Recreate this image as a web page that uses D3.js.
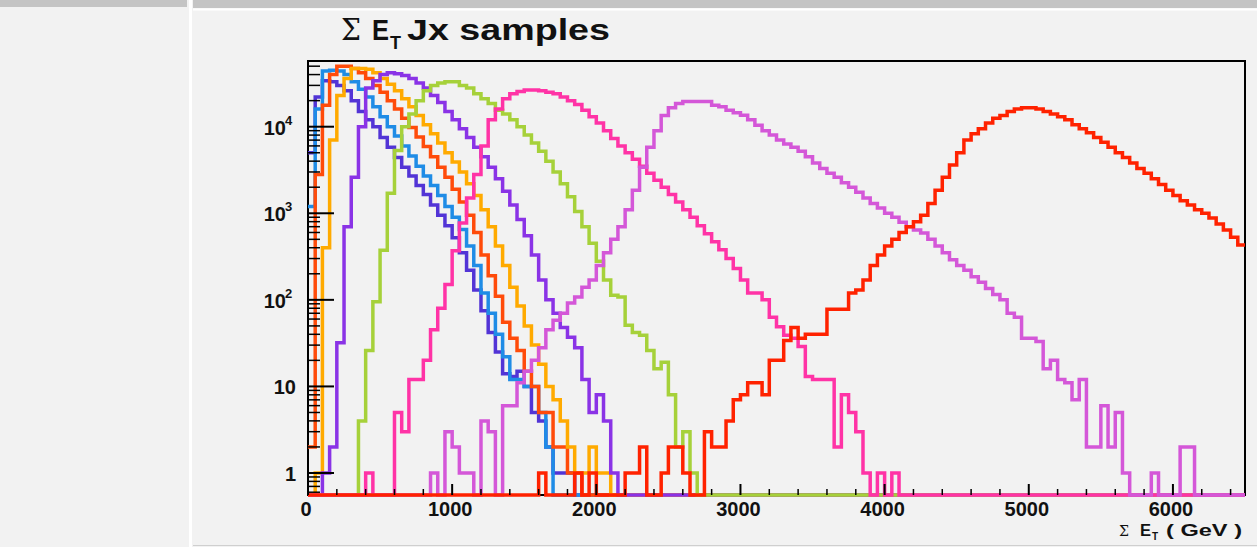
<!DOCTYPE html>
<html lang="en">
<head>
<meta charset="UTF-8">
<title>Sum ET Jx samples</title>
<script src="https://cdn.jsdelivr.net/npm/d3@7"></script>
<style>
  html, body { margin: 0; padding: 0; background: #f2f2f2; overflow: hidden; }
  svg { display: block; }
  text { font-family: "Liberation Sans", Arial, sans-serif; }
</style>
</head>
<body>
<script>
// histograms: 50 GeV bins on 0..6500 GeV, counts
const binWidth = 50;
const xMax = 6500;

// first filled bin of each sample, then its counts
const startBins = [0, 0, 0, 0, 2, 7, 8, 17, 32];

const countsJ0 = [5000, 22000, 34000, 33000, 30000, 26000, 20000, 15000, 12000, 10000, 7500, 5800, 4400, 3400, 2700, 2100, 1650, 1250, 950, 720, 520, 350, 220, 130, 75, 42, 25, 14, 13, 15, 10, 5, 4, 2, 1, 1, 1];
const countsJ1 = [1200, 16000, 44000, 45000, 44000, 40000, 33000, 27000, 22000, 17000, 13000, 10000, 7800, 6000, 4600, 3500, 2700, 2100, 1600, 1200, 900, 650, 420, 250, 120, 70, 40, 22, 12, 12, 10, 10, 5, 2];
const countsJ2 = [2, 2800, 17700, 40000, 50000, 50000, 47000, 42000, 36000, 30000, 25000, 20000, 16000, 12500, 9800, 7600, 5900, 4500, 3400, 2600, 1900, 1350, 950, 600, 330, 190, 110, 55, 36, 26, 15, 10, 5, 5, 2, 2, 1, 1];
const countsJ3 = [0, 1, 400, 7000, 23000, 36000, 47000, 47000, 46000, 42000, 36000, 31000, 26000, 21000, 17000, 13500, 10500, 8300, 6500, 5000, 3900, 3000, 2200, 1600, 1100, 700, 420, 250, 140, 85, 50, 30, 18, 10, 7, 4, 2, 1, 1, 2, 1, 1];
const countsJ4 = [1, 2, 32, 700, 2600, 10000, 28000, 34000, 40000, 42000, 41000, 39000, 36000, 32000, 28000, 23000, 19000, 15000, 12000, 9500, 7500, 5800, 4500, 3400, 2500, 1800, 1250, 850, 550, 330, 170, 100, 70, 48, 37, 28, 12, 5, 8, 4, 1];
const countsJ5 = [4, 26, 95, 375, 1700, 5300, 10000, 14000, 20000, 26000, 30000, 32000, 33000, 33000, 30000, 28000, 24000, 21000, 18500, 15500, 14000, 12000, 10000, 8000, 6500, 5200, 4000, 3000, 2200, 1550, 1050, 700, 450, 280, 170, 113, 108, 51, 42, 39, 26, 16, 19, 8, 2, 3, 1];
const countsJ6 = [1, 0, 0, 0, 5, 3, 12, 12, 20, 45, 80, 150, 370, 770, 1500, 2800, 6000, 12000, 16000, 21000, 24000, 25500, 26500, 26500, 26000, 25000, 24000, 22000, 20000, 18000, 15500, 13000, 11000, 9000, 7300, 6000, 5000, 4200, 3500, 2900, 2400, 2000, 1650, 1350, 1100, 900, 720, 580, 470, 380, 300, 230, 170, 120, 120, 100, 63, 49, 39, 36, 29, 13, 12, 12, 12, 2, 8, 5, 3, 1, 0, 1, 0, 1];
const countsJ7 = [1, 0, 3, 2, 1, 1, 0, 4, 3, 0, 6, 6, 11, 15, 20, 28, 45, 58, 70, 92, 108, 140, 170, 250, 350, 500, 700, 1100, 1850, 3400, 5800, 9000, 13500, 16500, 18500, 19500, 19500, 19500, 19500, 17700, 17000, 15500, 14500, 13600, 12000, 10400, 9000, 8000, 7000, 6300, 5800, 5200, 4500, 3800, 3300, 2900, 2600, 2250, 2000, 1750, 1500, 1300, 1150, 1000, 900, 790, 700, 640, 590, 500, 420, 350, 290, 250, 220, 185, 160, 135, 115, 100, 70, 63, 36, 36, 33, 16, 20, 12, 11, 7, 12, 2, 2, 6, 2, 5, 1, 0, 0, 0, 1, 0, 0, 0, 2, 2];
const countsJ8 = [1, 0, 0, 0, 0, 1, 0, 1, 0, 0, 0, 0, 1, 1, 2, 0, 0, 1, 2, 2, 1, 0, 0, 3, 2, 2, 4, 7, 8, 11, 11, 8, 20, 20, 34, 48, 36, 40, 40, 40, 78, 78, 78, 120, 130, 170, 250, 330, 420, 500, 600, 700, 800, 950, 1300, 1850, 2600, 3600, 5000, 7000, 8300, 9500, 11000, 12500, 13500, 15000, 16000, 16500, 16500, 16000, 15000, 14000, 13000, 12000, 10500, 9500, 8500, 7500, 6600, 5800, 5000, 4400, 3800, 3300, 2900, 2500, 2150, 1850, 1600, 1400, 1250, 1100, 1000, 880, 750, 640, 530, 430];

const sampleCounts = [countsJ0, countsJ1, countsJ2, countsJ3, countsJ4, countsJ5, countsJ6, countsJ7, countsJ8];
const sampleColors = ["#5234d6", "#1f8ce6", "#ff4b0a", "#ffaa00", "#8a33e6", "#a6d13a", "#ff33a6", "#d457d8", "#ff2200"];

const xTickValues = [0, 1000, 2000, 3000, 4000, 5000, 6000];
const yTickValues = [1, 10, 100, 1000, 10000];
const yTickLabels = [["1", ""], ["10", ""], ["10", "2"], ["10", "3"], ["10", "4"]];

const width = 1257, height = 547;
const frame = { left: 308, right: 1245, top: 61, bottom: 495 };
const nBins = xMax / binWidth;

const svg = d3.select("body").append("svg")
    .attr("width", width)
    .attr("height", height);

// window chrome around the canvas
svg.append("rect").attr("x", 0).attr("y", 0).attr("width", width).attr("height", height).attr("fill", "#f2f2f2");
svg.append("rect").attr("x", 0).attr("y", 0).attr("width", 187).attr("height", 7).attr("fill", "#c4c4c4");
svg.append("rect").attr("x", 193).attr("y", 0).attr("width", width - 193).attr("height", 8).attr("fill", "#c4c4c4");
svg.append("line").attr("x1", 193).attr("x2", width).attr("y1", 9.5).attr("y2", 9.5).attr("stroke", "#ffffff").attr("stroke-width", 2);
svg.append("line").attr("x1", 190.5).attr("x2", 190.5).attr("y1", 0).attr("y2", height).attr("stroke", "#ffffff").attr("stroke-width", 3);
svg.append("line").attr("x1", 193).attr("x2", width).attr("y1", 545.5).attr("y2", 545.5).attr("stroke", "#cfcfcf").attr("stroke-width", 1);

const x = d3.scaleLinear().domain([0, xMax]).range([frame.left, frame.right]);
const y = d3.scaleLog().domain([0.557, 57400]).range([frame.bottom, frame.top]);

// frame first, the empty bins are drawn over its bottom edge
svg.append("rect")
    .attr("x", frame.left).attr("y", frame.top)
    .attr("width", frame.right - frame.left).attr("height", frame.bottom - frame.top)
    .attr("fill", "none").attr("stroke", "#000").attr("stroke-width", 2);

// full 130-bin arrays, empty bins sit on the frame bottom like ROOT draws them
function fullBins(start, counts) {
    const bins = new Array(nBins).fill(0);
    counts.forEach((c, i) => { if (start + i < nBins) bins[start + i] = c; });
    return bins;
}

const stepLine = d3.line()
    .x(d => x(d.e))
    .y(d => d.v > 0 ? y(d.v) : frame.bottom)
    .curve(d3.curveStepAfter);

svg.append("clipPath").attr("id", "frameClip")
    .append("rect")
    .attr("x", frame.left).attr("y", frame.top - 2)
    .attr("width", frame.right - frame.left).attr("height", frame.bottom - frame.top + 6);

const plot = svg.append("g").attr("clip-path", "url(#frameClip)");

sampleCounts.forEach((counts, s) => {
    const bins = fullBins(startBins[s], counts);
    const pts = bins.map((v, i) => ({ e: i * binWidth, v: v }));
    pts.push({ e: xMax, v: bins[nBins - 1] });
    plot.append("path")
        .attr("d", stepLine(pts))
        .attr("fill", "none")
        .attr("stroke", sampleColors[s])
        .attr("stroke-width", 3.5)
        .attr("stroke-linejoin", "miter");
});

// x axis ticks (major every 1000, minor every 200)
const axisG = svg.append("g");
d3.range(0, xMax + 1, 200).forEach(v => {
    const major = v % 1000 === 0;
    axisG.append("line")
        .attr("x1", x(v)).attr("x2", x(v))
        .attr("y1", frame.bottom).attr("y2", frame.bottom - (major ? 11 : 6))
        .attr("stroke", "#000").attr("stroke-width", major ? 2 : 1.5);
});
axisG.selectAll(".xlab").data(xTickValues).enter().append("text")
    .attr("class", "xlab")
    .attr("x", d => x(d) - 2)
    .attr("y", 516)
    .attr("text-anchor", "middle")
    .attr("font-size", 20)
    .attr("font-weight", "bold")
    .attr("fill", "#111")
    .text(d => d);

// y axis ticks, log decades with minor ticks
const yMinor = [];
[0.1, 1, 10, 100, 1000, 10000].forEach(dec => {
    for (let m = 2; m <= 9; m++) {
        const v = dec * m;
        if (v > 0.557 && v < 57400) yMinor.push(v);
    }
});
yMinor.forEach(v => {
    axisG.append("line")
        .attr("x1", frame.left).attr("x2", frame.left + 12)
        .attr("y1", y(v)).attr("y2", y(v))
        .attr("stroke", "#000").attr("stroke-width", 1.5);
});
yTickValues.forEach(v => {
    axisG.append("line")
        .attr("x1", frame.left).attr("x2", frame.left + 26)
        .attr("y1", y(v)).attr("y2", y(v))
        .attr("stroke", "#000").attr("stroke-width", 2);
});
yTickValues.forEach((v, i) => {
    const lab = yTickLabels[i];
    axisG.append("text")
        .attr("x", lab[1] ? 286 : 296)
        .attr("y", y(v) + 8)
        .attr("text-anchor", "end")
        .attr("font-size", 20)
        .attr("font-weight", "bold")
        .attr("fill", "#111")
        .text(lab[0]);
    if (lab[1]) {
        axisG.append("text")
            .attr("x", 285).attr("y", y(v) - 2)
            .attr("font-size", 13).attr("font-weight", "bold").attr("fill", "#111")
            .text(lab[1]);
    }
});

// title pieces placed one by one
const titleG = svg.append("g").attr("fill", "#111");
titleG.append("text").attr("x", 341).attr("y", 40)
    .style("font-family", "'DejaVu Serif', serif").attr("font-size", 30)
    .attr("textLength", 20).attr("lengthAdjust", "spacingAndGlyphs").text("\u03A3");
titleG.append("text").attr("x", 372).attr("y", 40)
    .attr("font-size", 30).attr("font-weight", "bold")
    .attr("textLength", 17).attr("lengthAdjust", "spacingAndGlyphs").text("E");
titleG.append("text").attr("x", 390).attr("y", 49)
    .attr("font-size", 19).attr("font-weight", "bold")
    .attr("textLength", 11).attr("lengthAdjust", "spacingAndGlyphs").text("T");
titleG.append("text").attr("x", 407).attr("y", 40)
    .attr("font-size", 30).attr("font-weight", "bold")
    .attr("textLength", 203).attr("lengthAdjust", "spacingAndGlyphs").text("Jx samples");

// x axis title
const xTitleG = svg.append("g").attr("fill", "#111");
xTitleG.append("text").attr("x", 1119).attr("y", 536)
    .style("font-family", "'DejaVu Serif', serif").attr("font-size", 15)
    .attr("textLength", 10).attr("lengthAdjust", "spacingAndGlyphs").text("\u03A3");
xTitleG.append("text").attr("x", 1140).attr("y", 536)
    .attr("font-size", 16).attr("font-weight", "bold")
    .attr("textLength", 11).attr("lengthAdjust", "spacingAndGlyphs").text("E");
xTitleG.append("text").attr("x", 1152).attr("y", 540)
    .attr("font-size", 10).attr("font-weight", "bold").text("T");
xTitleG.append("text").attr("x", 1166).attr("y", 536)
    .attr("font-size", 16).attr("font-weight", "bold")
    .attr("textLength", 76).attr("lengthAdjust", "spacingAndGlyphs").text("( GeV )");
</script>
</body>
</html>
